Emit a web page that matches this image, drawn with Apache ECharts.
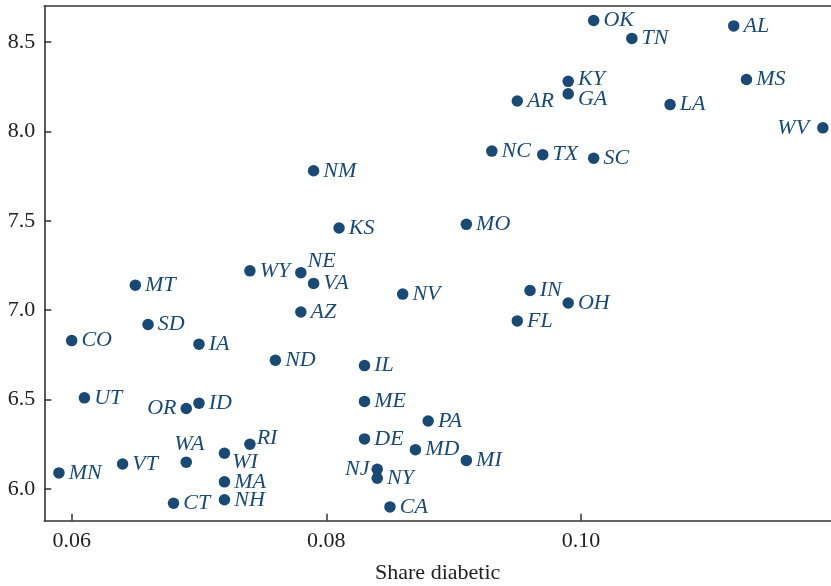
<!DOCTYPE html>
<html>
<head>
<meta charset="utf-8">
<script src="https://cdn.jsdelivr.net/npm/echarts@6/dist/echarts.min.js"></script>
<style>
html,body{margin:0;padding:0;background:#fff;}
#chart{width:831px;height:586px;}
</style>
</head>
<body>
<div id="chart"></div>
<script>
const states = ['OK','TN','AL','KY','GA','AR','MS','LA','WV','NC','TX','SC','MO','NM','KS','WY','NE','VA','MT','NV','IN','OH','FL','AZ','SD','CO','IA','ND','IL','UT','OR','ID','ME','PA','DE','RI','MD','WA','WI','MI','VT','MN','NJ','NY','MA','NH','CT','CA'];
const shareDiabetic = [0.101,0.104,0.112,0.099,0.099,0.095,0.113,0.107,0.119,0.093,0.097,0.101,0.091,0.079,0.081,0.074,0.078,0.079,0.065,0.086,0.096,0.099,0.095,0.078,0.066,0.060,0.070,0.076,0.083,0.061,0.069,0.070,0.083,0.088,0.083,0.074,0.087,0.069,0.072,0.091,0.064,0.059,0.084,0.084,0.072,0.072,0.068,0.085];
const yValues = [8.62,8.52,8.59,8.28,8.21,8.17,8.29,8.15,8.02,7.89,7.87,7.85,7.48,7.78,7.46,7.22,7.21,7.15,7.14,7.09,7.11,7.04,6.94,6.99,6.92,6.83,6.81,6.72,6.69,6.51,6.45,6.48,6.49,6.38,6.28,6.25,6.22,6.15,6.20,6.16,6.14,6.09,6.11,6.06,6.04,5.94,5.92,5.90];
const xTicks = [0.06, 0.08, 0.10];
const yTicks = [6.0, 6.5, 7.0, 7.5, 8.0, 8.5];
const xTitle = 'Share diabetic';

// label placement tweaks (style only)
const labelTweaks = {
  WV: {position: 'left', distance: 8},
  OR: {position: 'left', distance: 4},
  NJ: {position: 'left', distance: 2},
  WA: {position: 'top', distance: 1, offset: [3, 0]},
  NE: {offset: [-3, -11]},
  RI: {offset: [-3, -6]},
  WI: {offset: [-2, 9]},
  GA: {offset: [0, 5]},
  KY: {offset: [0, -2]}
};

const dotColor = '#1a4a73';
const axisColor = '#333';
const serif = '"Liberation Serif", "Times New Roman", serif';

const data = states.map((s, i) => {
  const t = labelTweaks[s] || {};
  const item = {
    name: s,
    value: [shareDiabetic[i], yValues[i]],
    label: {
      position: t.position || 'right',
      distance: t.distance !== undefined ? t.distance : 4
    }
  };
  if (t.offset) item.label.offset = t.offset;
  return item;
});

const xMin = 0.05785, xMax = 0.11964, yMin = 5.8227, yMax = 8.7013;

const chart = echarts.init(document.getElementById('chart'), null, {renderer: 'canvas'});
chart.setOption({
  animation: false,
  backgroundColor: '#fff',
  grid: {left: 44.3, right: 0, top: 6, bottom: 65.3, containLabel: false, outerBoundsMode: 'none'},
  xAxis: [{
    type: 'value', min: xMin, max: xMax,
    name: xTitle, nameLocation: 'middle', nameGap: 42,
    nameTextStyle: {fontFamily: serif, fontSize: 22, color: '#222'},
    axisLine: {show: true, onZero: false, lineStyle: {color: axisColor, width: 1.6}},
    axisTick: {show: true, inside: true, length: 7, customValues: xTicks, lineStyle: {color: axisColor, width: 1.5}},
    axisLabel: {show: true, customValues: xTicks, margin: 10, fontFamily: serif, fontSize: 22, color: '#222',
      formatter: v => v.toFixed(2)},
    splitLine: {show: false}
  }, {
    type: 'value', min: xMin, max: xMax, position: 'top',
    axisLine: {show: true, onZero: false, lineStyle: {color: axisColor, width: 1.6}},
    axisTick: {show: false}, axisLabel: {show: false}, splitLine: {show: false}
  }],
  yAxis: {
    type: 'value', min: yMin, max: yMax,
    axisLine: {show: true, onZero: false, lineStyle: {color: axisColor, width: 1.6}},
    axisTick: {show: true, inside: true, length: 7, customValues: yTicks, lineStyle: {color: axisColor, width: 1.5}},
    axisLabel: {show: true, customValues: yTicks, margin: 9, fontFamily: serif, fontSize: 22, color: '#222',
      formatter: v => v.toFixed(1)},
    splitLine: {show: false}
  },
  series: [{
    type: 'scatter',
    xAxisIndex: 0,
    symbol: 'circle',
    symbolSize: 11.5,
    itemStyle: {color: dotColor, opacity: 1},
    label: {
      show: true,
      formatter: '{b}',
      fontFamily: serif,
      fontStyle: 'italic',
      fontSize: 22,
      color: dotColor
    },
    emphasis: {disabled: true},
    data: data
  }]
});
</script>
</body>
</html>
